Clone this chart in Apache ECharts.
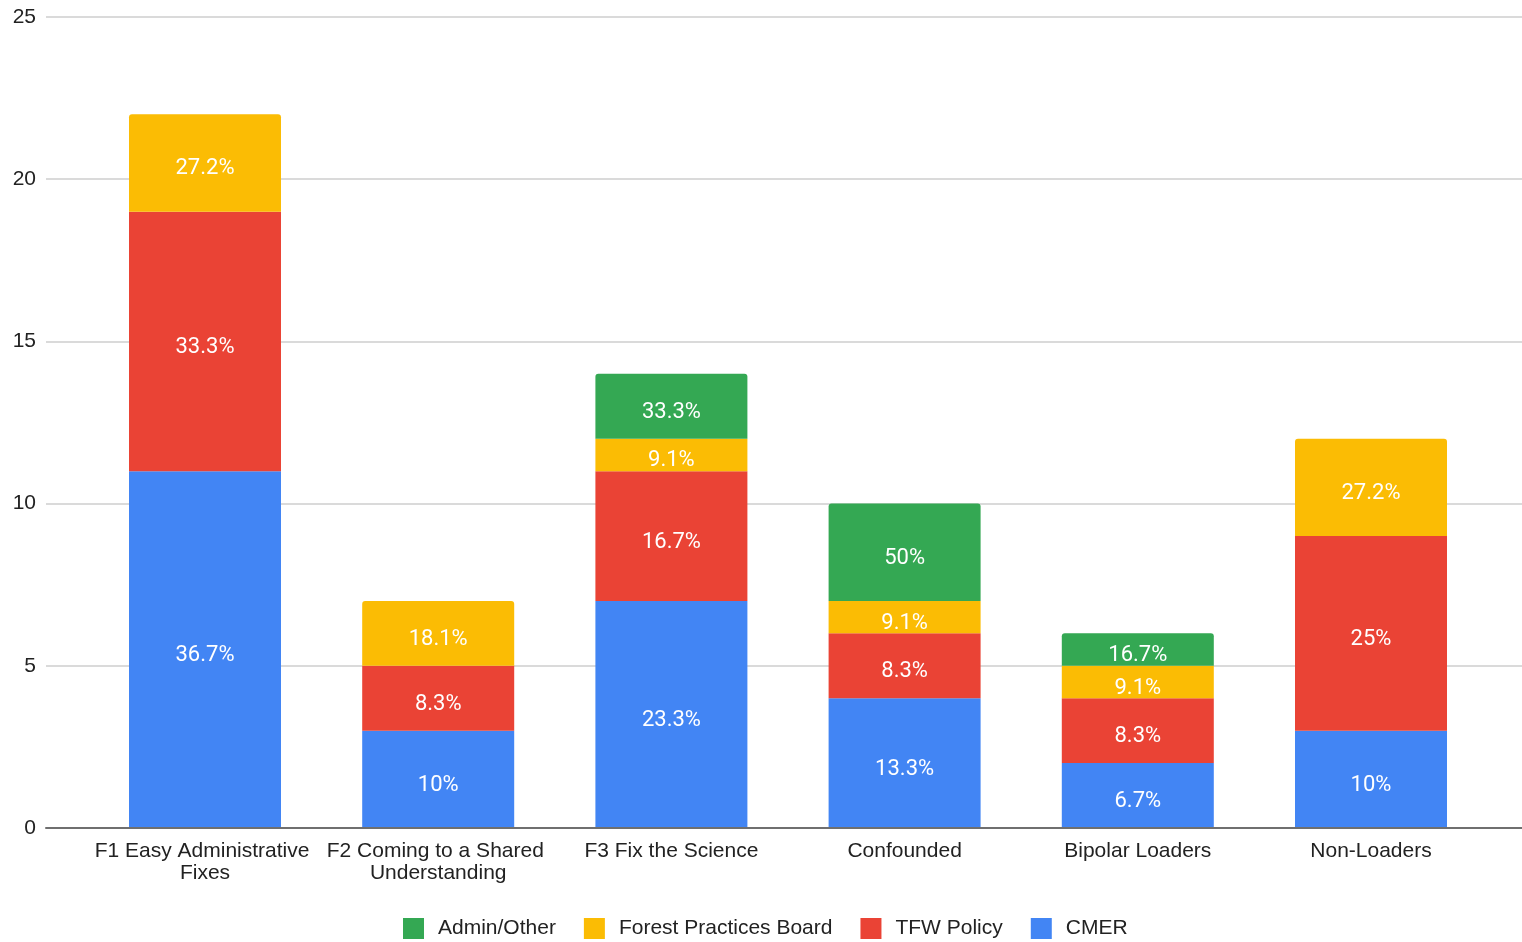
<!DOCTYPE html>
<html>
<head>
<meta charset="utf-8">
<script src="https://cdn.jsdelivr.net/npm/echarts@6/dist/echarts.min.js"></script>
<style>
  html, body { margin: 0; padding: 0; background: #ffffff; }
  #chart { width: 1522px; height: 942px; }
</style>
</head>
<body>
<div id="chart"></div>
<script>
// Categories (x axis)
const categories = [
  'F1 Easy Administrative Fixes',
  'F2 Coming to a Shared Understanding',
  'F3 Fix the Science',
  'Confounded',
  'Bipolar Loaders',
  'Non-Loaders'
];

// Counts per group, stacked bottom to top
const cmer        = [11, 3, 7, 4, 2, 3];
const tfwPolicy   = [8, 2, 4, 2, 2, 6];
const forestBoard = [3, 2, 1, 1, 1, 3];
const adminOther  = [0, 0, 2, 3, 1, 0];

// Share of each group's total, shown inside the segments
const cmerPct   = ['36.7%', '10%', '23.3%', '13.3%', '6.7%', '10%'];
const tfwPct    = ['33.3%', '8.3%', '16.7%', '8.3%', '8.3%', '25%'];
const boardPct  = ['27.2%', '18.1%', '9.1%', '9.1%', '9.1%', '27.2%'];
const adminPct  = ['', '', '33.3%', '50%', '16.7%', ''];

// Value axis ticks
const yTicks = [0, 5, 10, 15, 20, 25];

const groups = [
  { name: 'CMER', data: cmer, pct: cmerPct, color: '#4285F4' },
  { name: 'TFW Policy', data: tfwPolicy, pct: tfwPct, color: '#EA4335' },
  { name: 'Forest Practices Board', data: forestBoard, pct: boardPct, color: '#FBBC04' },
  { name: 'Admin/Other', data: adminOther, pct: adminPct, color: '#34A853' }
];

// Which group forms the top of each column (gets rounded corners)
const topIndex = categories.map((_, i) => {
  let t = 0;
  groups.forEach((g, gi) => { if (g.data[i] > 0) t = gi; });
  return t;
});

const axisFont = "'Liberation Sans', Arial, sans-serif";
const yMin = yTicks[0];
const yMax = yTicks[yTicks.length - 1];
const yStep = yTicks[1] - yTicks[0];

const series = groups.map((g, gi) => ({
  name: g.name,
  type: 'bar',
  stack: 'total',
  xAxisIndex: 1,
  yAxisIndex: 1,
  barWidth: 152,
  color: g.color,
  data: g.data.map((v, i) => ({
    value: v,
    itemStyle: { borderRadius: topIndex[i] === gi ? [3, 3, 0, 0] : 0 }
  })),
  label: {
    show: true,
    position: 'inside',
    offset: [0, 6],
    color: '#ffffff',
    fontFamily: 'Roboto, sans-serif',
    fontSize: 22,
    formatter: p => (p.value > 0 ? g.pct[p.dataIndex] : '')
  },
  emphasis: { disabled: true },
  z: 3
}));

const chart = echarts.init(document.getElementById('chart'), null, { renderer: 'canvas' });
chart.setOption({
  animation: false,
  backgroundColor: '#ffffff',
  grid: [
    // full-width frame carrying the value gridlines and baseline
    { left: 46, right: 0, top: 17, bottom: 114, containLabel: false },
    // plot region holding the columns
    { left: 88.4, right: 34.4, top: 17, bottom: 114, containLabel: false }
  ],
  xAxis: [
    {
      gridIndex: 0,
      type: 'value',
      min: 0,
      max: 1,
      axisLine: { show: true, onZero: false, lineStyle: { color: '#6f6f6f', width: 2 } },
      axisTick: { show: false },
      axisLabel: { show: false },
      splitLine: { show: false },
      z: 4
    },
    {
      gridIndex: 1,
      type: 'category',
      data: categories,
      axisLine: { show: false },
      axisTick: { show: false },
      axisLabel: {
        interval: 0,
        margin: 12,
        color: '#222222',
        fontFamily: axisFont,
        fontSize: 21,
        lineHeight: 22,
        width: 228,
        overflow: 'break'
      }
    }
  ],
  yAxis: [
    {
      gridIndex: 0,
      type: 'value',
      min: yMin,
      max: yMax,
      interval: yStep,
      axisLine: { show: false },
      axisTick: { show: false },
      axisLabel: {
        margin: 10,
        color: '#222222',
        fontFamily: axisFont,
        fontSize: 21
      },
      splitLine: { show: true, lineStyle: { color: '#dadada', width: 2 } }
    },
    {
      gridIndex: 1,
      type: 'value',
      min: yMin,
      max: yMax,
      interval: yStep,
      show: false,
      splitLine: { show: false }
    }
  ],
  legend: {
    data: ['Admin/Other', 'Forest Practices Board', 'TFW Policy', 'CMER'],
    left: 398,
    top: 913,
    icon: 'rect',
    itemWidth: 21,
    itemHeight: 21,
    itemGap: 28,
    selectedMode: false,
    textStyle: {
      color: '#222222',
      fontFamily: axisFont,
      fontSize: 21,
      padding: [0, 0, 0, 9]
    }
  },
  series: series
});
</script>
</body>
</html>
